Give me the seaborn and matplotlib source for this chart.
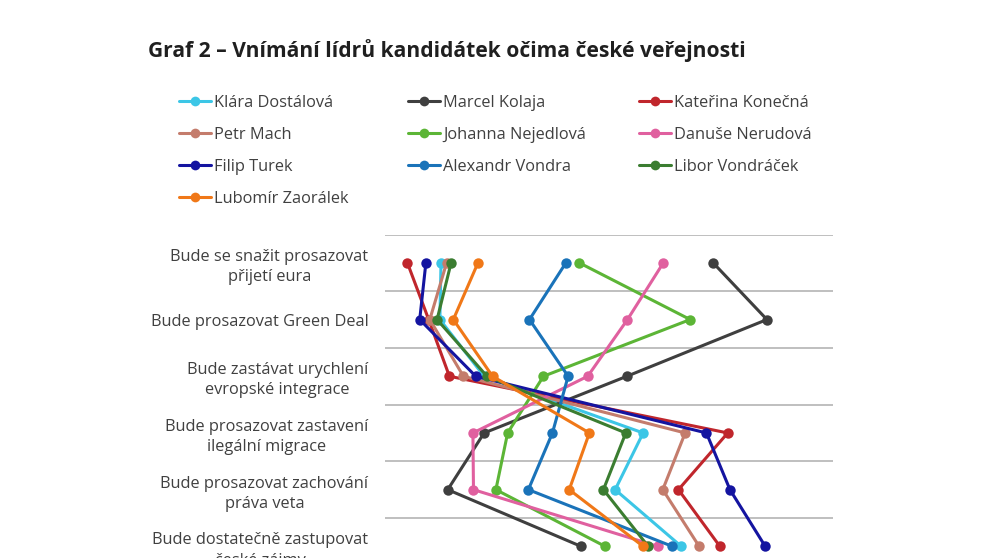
import numpy as np
import pandas as pd
import matplotlib
matplotlib.use("Agg")
import matplotlib.pyplot as plt
from matplotlib.lines import Line2D
import seaborn as sns

# rows of the chart (top to bottom)
categories = [
    "Bude se snažit prosazovat\npřijetí eura",
    "Bude prosazovat Green Deal",
    "Bude zastávat urychlení\nevropské integrace",
    "Bude prosazovat zastavení\nilegální migrace",
    "Bude prosazovat zachování\npráva veta",
    "Bude dostatečně zastupovat\nčeské zájmy",
]

candidates = ["Klára Dostálová", "Marcel Kolaja", "Kateřina Konečná",
              "Petr Mach", "Johanna Nejedlová", "Danuše Nerudová",
              "Filip Turek", "Alexandr Vondra", "Libor Vondráček",
              "Lubomír Zaorálek"]

# values (approx. %), one list per candidate, per row
dostalova = [10.0, 9.8, 17.7, 46.1, 41.1, 52.9]
kolaja = [58.6, 68.2, 43.2, 17.7, 11.2, 35.0]
konecna = [4.0, 7.8, 11.5, 61.2, 52.4, 59.8]
mach = [11.0, 8.0, 14.0, 53.6, 49.6, 56.1]
nejedlova = [34.7, 54.5, 28.3, 21.9, 19.8, 39.3]
nerudova = [49.7, 43.3, 36.2, 15.7, 15.8, 48.7]
turek = [7.3, 6.2, 16.2, 57.4, 61.6, 67.9]
vondra = [32.3, 25.8, 32.7, 29.9, 25.6, 51.3]
vondracek = [11.8, 9.3, 18.2, 43.0, 39.0, 47.0]
zaoralek = [16.6, 12.2, 19.2, 36.5, 32.9, 46.1]

series = [dostalova, kolaja, konecna, mach, nejedlova, nerudova,
          turek, vondra, vondracek, zaoralek]

colors = ["#3cc6e6", "#3f3f3f", "#c0262c", "#c47c6c", "#5cb536",
          "#e0609f", "#1414a0", "#1a73b9", "#3b7d31", "#f07818"]
palette = dict(zip(candidates, colors))

rows = []
for name, vals in zip(candidates, series):
    for i, v in enumerate(vals):
        rows.append({"kandidat": name, "row": i, "value": v})
df = pd.DataFrame(rows)

sns.set_theme(style="white")
plt.rcParams["font.family"] = ["Open Sans", "DejaVu Sans"]

W, H = 991, 558
fig = plt.figure(figsize=(W / 100, H / 100), dpi=100)

top_px, row_px = 234.5, 56.7
n = len(categories)
left_px, right_px = 385, 833
ax = fig.add_axes([left_px / W, (H - (top_px + n * row_px)) / H,
                   (right_px - left_px) / W, n * row_px / H])

sns.lineplot(data=df, x="value", y="row", hue="kandidat", hue_order=candidates,
             palette=palette, orient="y", marker="o", markersize=7.5,
             markeredgewidth=0, linewidth=2.2, legend=False, ax=ax)

ax.set_xlim(0, 80)
ax.set_ylim(n - 0.5, -0.5)
ax.set_yticks(range(n))
ax.set_yticklabels(categories, fontsize=11.8, color="#404040",
                   multialignment="center", linespacing=1.35)
ax.set_yticks(np.arange(-0.5, n, 1), minor=True)
ax.tick_params(axis="y", which="major", length=0, pad=12)
ax.tick_params(axis="y", which="minor", length=0)
ax.set_xticks([])
ax.grid(False)
ax.grid(True, which="minor", axis="y", color="#bfbfbf", linewidth=1.4)
ax.set_axisbelow(True)
for s in ax.spines.values():
    s.set_visible(False)
ax.set_xlabel("")
ax.set_ylabel("")

fig.text(148 / W, 1 - 51 / H, "Graf 2 – Vnímání lídrů kandidátek očima české veřejnosti",
         fontsize=15.1, fontweight="bold", color="#1f1f1f", va="center", ha="left")

# legend laid out in three columns, filled row by row
col_x = [179, 408, 639]
for c in range(3):
    names = candidates[c::3]
    handles = [Line2D([], [], color=palette[nm], marker="o", markersize=7,
                      markeredgewidth=0, linewidth=2.2) for nm in names]
    fig.legend(handles, names, loc="upper left",
               bbox_to_anchor=(col_x[c] / W, 1 - 95 / H), frameon=False,
               fontsize=11.8, labelcolor="#404040", handlelength=1.95,
               handletextpad=0.18, labelspacing=0.98, borderpad=0,
               borderaxespad=0)

fig.savefig("out.png", dpi=100)
